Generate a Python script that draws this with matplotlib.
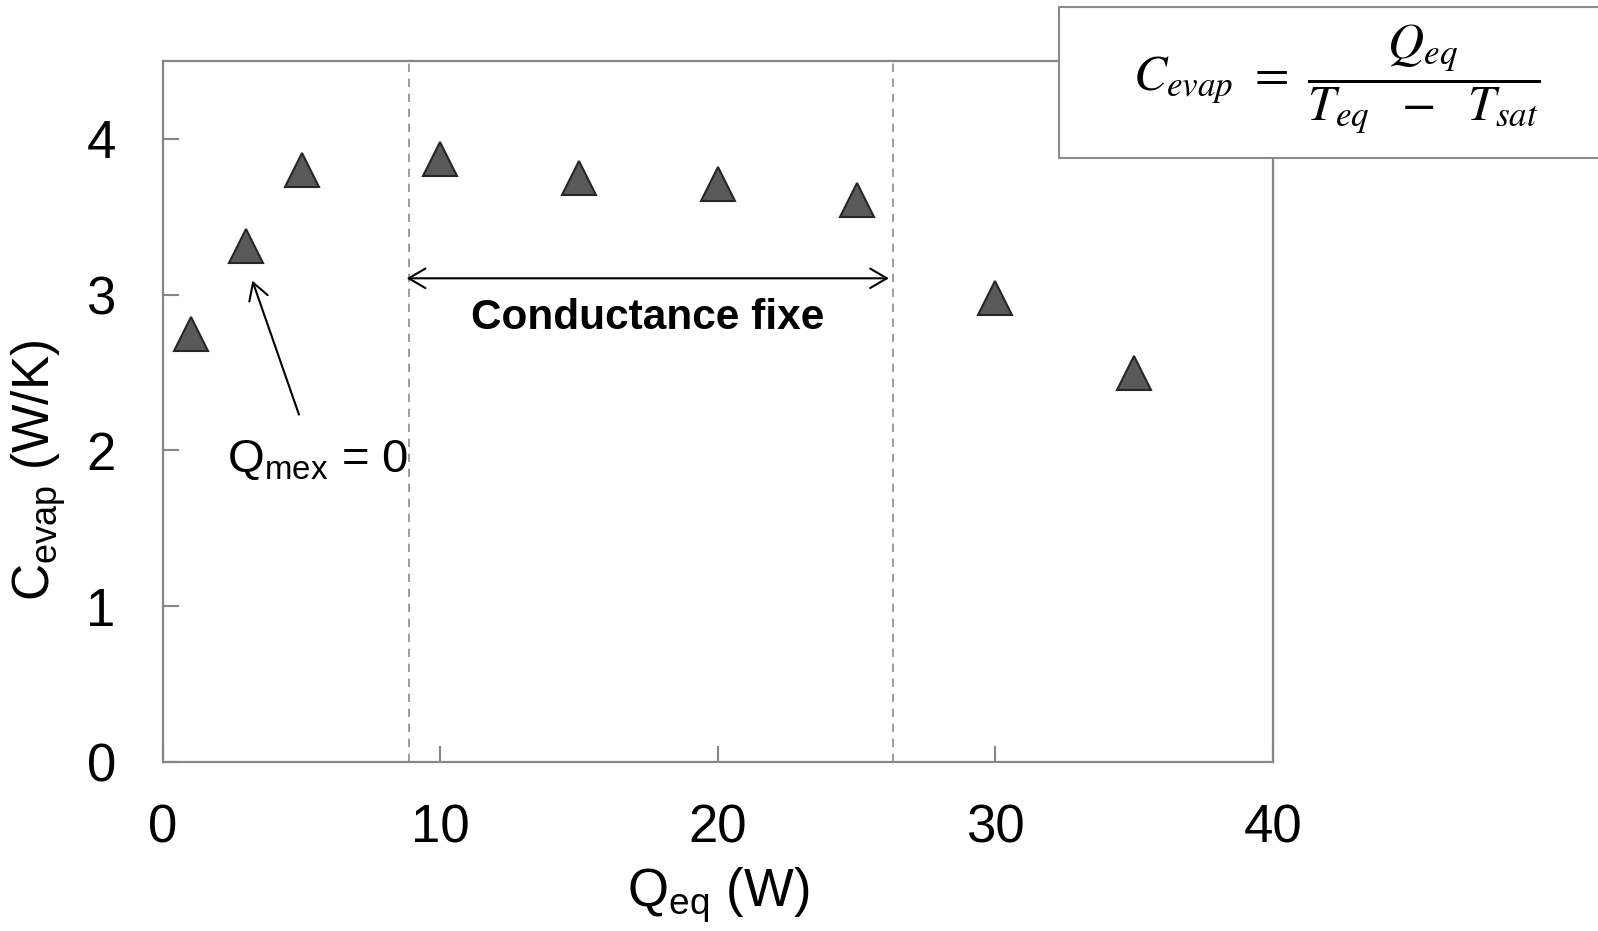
import matplotlib
matplotlib.use("Agg")
import matplotlib.pyplot as plt
from matplotlib.patches import Rectangle

plt.rcParams['font.family'] = ['Liberation Sans', 'DejaVu Sans']
plt.rcParams['mathtext.fontset'] = 'custom'
plt.rcParams['mathtext.rm'] = 'Liberation Sans'
plt.rcParams['mathtext.it'] = 'Liberation Sans:italic'
plt.rcParams['mathtext.bf'] = 'Liberation Sans:bold'

# Measured evaporator conductance versus equivalent heat load
q_eq = [1, 3, 5, 10, 15, 20, 25, 30, 35]
c_evap = [2.75, 3.31, 3.80, 3.87, 3.75, 3.71, 3.61, 2.98, 2.50]

x_ticks = [0, 10, 20, 30, 40]
y_ticks = [0, 1, 2, 3, 4]

# Bounds of the constant-conductance region
fixed_start, fixed_end = 8.85, 26.3

spine_col = '#868686'

fig = plt.figure(figsize=(15.98, 9.31), dpi=100)
ax = fig.add_axes([0.102, 0.1815, 0.6946, 0.753])

ax.plot(q_eq, c_evap, linestyle='none', marker='^', markersize=25,
        markerfacecolor='#595959', markeredgecolor='#262626',
        markeredgewidth=1.5, zorder=3)

ax.set_xlim(0, 40)
ax.set_ylim(0, 4.5)
ax.set_xticks(x_ticks)
ax.set_yticks(y_ticks)
ax.tick_params(axis='both', direction='in', length=11.5, width=1.5,
               color=spine_col, labelsize=38)
ax.tick_params(axis='x', pad=30)
ax.tick_params(axis='y', pad=34)
for s in ax.spines.values():
    s.set_color(spine_col)
    s.set_linewidth(1.6)

for xv in (fixed_start, fixed_end):
    ax.axvline(xv, color='#8c8c8c', linestyle=(0, (5, 4)), linewidth=1.2,
               zorder=1)

ax.annotate('', xy=(8.78, 3.105), xytext=(26.16, 3.105),
            arrowprops=dict(arrowstyle='<->, head_length=0.6, head_width=0.35',
                            mutation_scale=20, color='black', lw=1.5,
                            shrinkA=0, shrinkB=0))
ax.text(17.46, 2.85, 'Conductance fixe', fontsize=30.5, fontweight='bold',
        ha='center', va='center')

ax.annotate('', xy=(3.22, 3.09), xytext=(4.9, 2.23),
            arrowprops=dict(arrowstyle='->, head_length=0.6, head_width=0.35',
                            mutation_scale=20, color='black', lw=1.5,
                            shrinkA=0, shrinkB=0))
ax.text(2.3, 1.863, r'Q$_{\mathrm{mex}}$ = 0', fontsize=34,
        ha='left', va='baseline')

ax.set_xlabel(r'Q$_{\mathrm{eq}}$ (W)', fontsize=38, va='center')
ax.xaxis.set_label_coords(0.5, -0.19)
ax.set_ylabel(r'C$_{\mathrm{evap}}$ (W/K)', fontsize=37, va='center')
ax.yaxis.set_label_coords(-0.1117, 0.4166)

# Formula box overlapping the top-right corner of the plot
box = Rectangle((0.6625, 0.8303), 0.4, 0.1622, transform=fig.transFigure,
                facecolor='white', edgecolor='#8c8c8c', linewidth=1.5,
                zorder=10)
fig.add_artist(box)
fig.text(0.8365, 0.915,
         r'$C_{evap}\ =\ \dfrac{Q_{eq}}{T_{eq}\ \ -\ \ T_{sat}}$',
         math_fontfamily='stix', fontsize=36, ha='center', va='center',
         zorder=11)

fig.savefig('out.png', dpi=100)
